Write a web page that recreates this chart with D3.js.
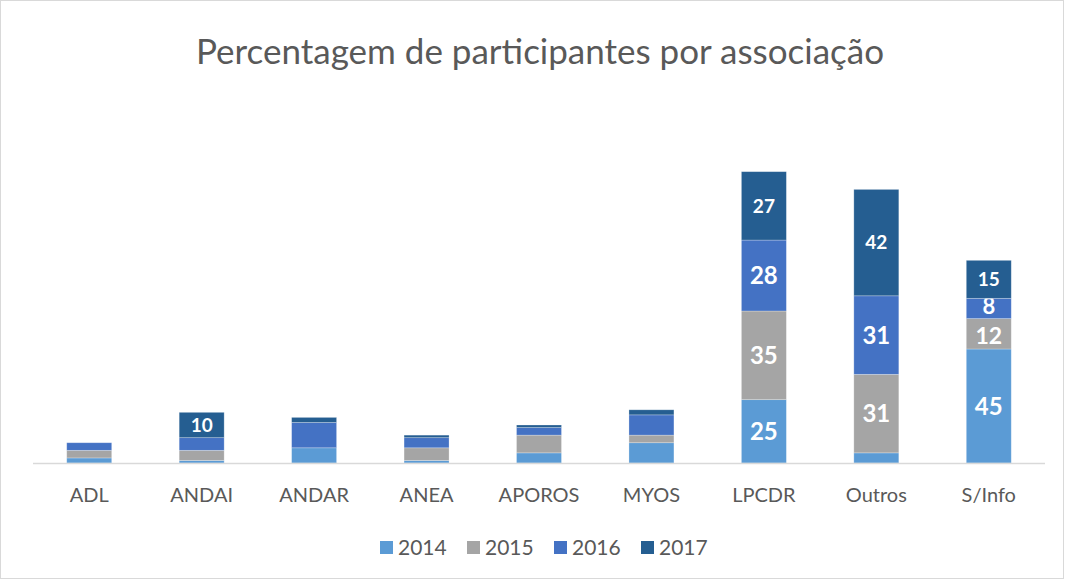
<!DOCTYPE html>
<html>
<head>
<meta charset="utf-8">
<script src="https://cdn.jsdelivr.net/npm/d3@7"></script>
<style>
    body { margin: 0; background: #fff; }
    #chart-area { width: 1066px; height: 581px; }
    text { font-family: Lato, "Open Sans", sans-serif; }
</style>
</head>
<body>
<div id="chart-area"></div>
<script>

// categories and series (percent of participants)
const categories = ["ADL", "ANDAI", "ANDAR", "ANEA", "APOROS", "MYOS", "LPCDR", "Outros", "S/Info"];
const years = ["2014", "2015", "2016", "2017"];
const values2014 = [2, 1, 6, 1, 4, 8, 25, 4, 45];
const values2015 = [3, 4, 0, 5, 7, 3, 35, 31, 12];
const values2016 = [3, 5, 10, 4, 3, 8, 28, 31, 8];
const values2017 = [0, 10, 2, 1, 1, 2, 27, 42, 15];
// which segments carry a data label (category, year)
const labelled = [
    ["ANDAI", "2017"],
    ["LPCDR", "2014"], ["LPCDR", "2015"], ["LPCDR", "2016"], ["LPCDR", "2017"],
    ["Outros", "2015"], ["Outros", "2016"], ["Outros", "2017"],
    ["S/Info", "2014"], ["S/Info", "2015"], ["S/Info", "2016"], ["S/Info", "2017"]
];
const colors = ["#5B9BD5", "#A5A5A5", "#4472C4", "#255E91"];


class StackedBarChart {

    constructor(parentElement) {
        this.parentElement = parentElement;
        this.initVis();
    }

    initVis() {
        let vis = this;

        vis.width = 1066;
        vis.height = 581;

        vis.svg = d3.select("#" + vis.parentElement).append("svg")
            .attr("width", vis.width)
            .attr("height", vis.height);

        // outer border of the chart
        vis.svg.append("rect")
            .attr("x", 0.5)
            .attr("y", 0.5)
            .attr("width", vis.width - 3)
            .attr("height", vis.height - 3)
            .attr("fill", "#fff")
            .attr("stroke", "#d9d9d9");

        // title
        vis.svg.append("text")
            .attr("x", 540)
            .attr("y", 64)
            .attr("text-anchor", "middle")
            .attr("fill", "#595959")
            .style("font-size", "35px")
            .text("Percentagem de participantes por associação");

        // scales
        vis.x = d3.scaleBand()
            .domain(categories)
            .range([33, 1045])
            .paddingInner(0.6)
            .paddingOuter(0.3);
        vis.y = d3.scaleLinear()
            .domain([0, 120])
            .range([463, 159]);

        vis.wrangleData();
    }

    wrangleData() {
        let vis = this;

        let rows = categories.map((c, i) => ({
            category: c,
            "2014": values2014[i],
            "2015": values2015[i],
            "2016": values2016[i],
            "2017": values2017[i]
        }));

        vis.series = d3.stack().keys(years)(rows);

        vis.updateVis();
    }

    updateVis() {
        let vis = this;

        let layers = vis.svg.selectAll("g.layer")
            .data(vis.series)
            .enter()
            .append("g")
            .attr("class", "layer")
            .attr("fill", (d, i) => colors[i]);

        layers.selectAll("rect")
            .data(d => d.filter(s => s[1] - s[0] > 0))
            .enter()
            .append("rect")
            .attr("x", d => vis.x(d.data.category))
            .attr("y", d => vis.y(d[1]))
            .attr("width", vis.x.bandwidth())
            .attr("height", d => vis.y(d[0]) - vis.y(d[1]))
            .attr("stroke", "#fff")
            .attr("stroke-opacity", 0.35)
            .attr("stroke-width", 0.75);

        // data labels
        let isLabelled = (cat, year) => labelled.some(l => l[0] === cat && l[1] === year);

        // thin segments get a slightly smaller label, nudged away from its neighbour
        let labelSize = function(d, year) {
            let h = vis.y(d[0]) - vis.y(d[1]);
            if (year === "2017") return 19;
            if (h < 25) return 22;
            if (h < 35) return 23;
            return 24;
        };
        let labelShift = function(d, year) {
            let h = vis.y(d[0]) - vis.y(d[1]);
            if (year === "2017") return 0;
            if (h < 25) return -2;
            if (h < 35) return 2;
            return 0;
        };

        layers.each(function(layer) {
            let year = layer.key;
            d3.select(this).selectAll("text.bar-label")
                .data(layer.filter(s => isLabelled(s.data.category, year)))
                .enter()
                .append("text")
                .attr("class", "bar-label")
                .attr("x", d => vis.x(d.data.category) + vis.x.bandwidth() / 2)
                .attr("y", d => (vis.y(d[0]) + vis.y(d[1])) / 2 + labelShift(d, year))
                .attr("dy", "0.36em")
                .attr("text-anchor", "middle")
                .attr("fill", "#fff")
                .style("font-weight", "bold")
                .style("font-size", d => labelSize(d, year) + "px")
                .text(d => d[1] - d[0]);
        });

        // x axis
        vis.svg.append("line")
            .attr("x1", 33)
            .attr("x2", 1045)
            .attr("y1", 463.5)
            .attr("y2", 463.5)
            .attr("stroke", "#d9d9d9")
            .attr("stroke-width", 1.5);

        vis.svg.selectAll("text.cat-label")
            .data(categories)
            .enter()
            .append("text")
            .attr("class", "cat-label")
            .attr("x", d => vis.x(d) + vis.x.bandwidth() / 2)
            .attr("y", 502)
            .attr("text-anchor", "middle")
            .attr("fill", "#595959")
            .style("font-size", "20px")
            .text(d => d);

        // legend
        let legend = vis.svg.selectAll("g.legend")
            .data(years)
            .enter()
            .append("g")
            .attr("class", "legend")
            .attr("transform", (d, i) => "translate(" + (380 + i * 87) + ",541)");

        legend.append("rect")
            .attr("width", 13)
            .attr("height", 13)
            .attr("fill", (d, i) => colors[i]);

        legend.append("text")
            .attr("x", 18)
            .attr("y", 14)
            .attr("fill", "#595959")
            .style("font-size", "21px")
            .text(d => d);
    }
}

new StackedBarChart("chart-area");

</script>
</body>
</html>
